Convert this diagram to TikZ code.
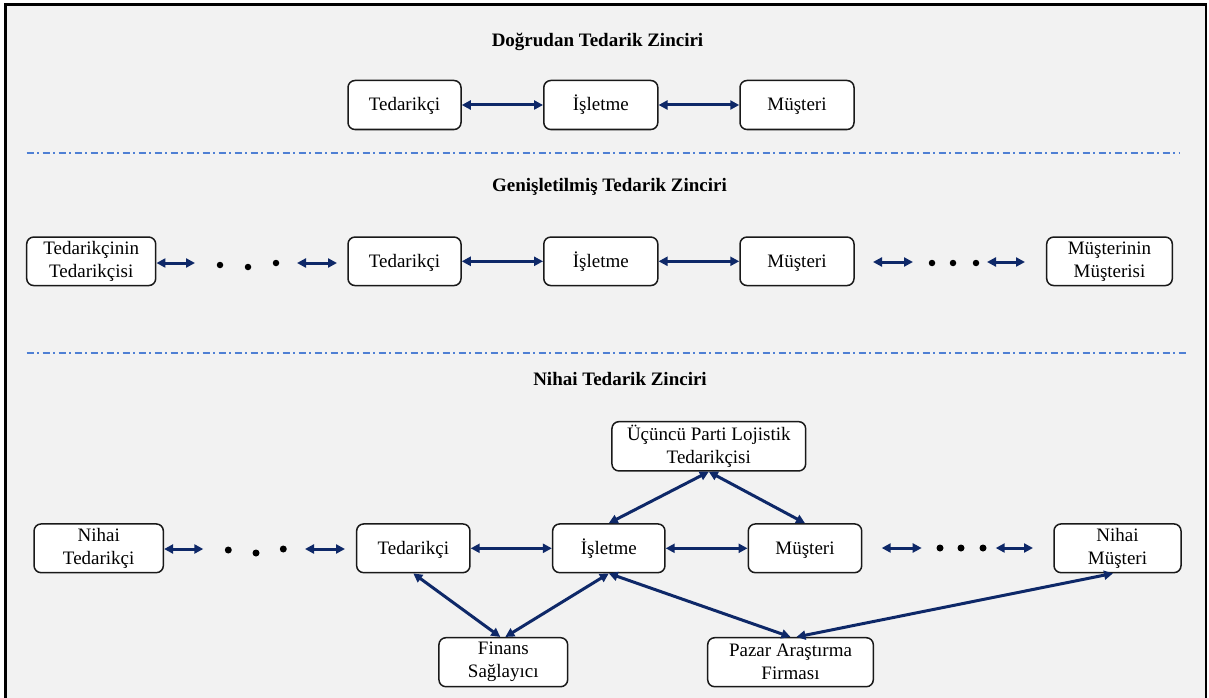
\documentclass[tikz,border=0pt]{standalone}
\usepackage{fontspec}
\setmainfont{Liberation Serif}
\usetikzlibrary{arrows.meta}
\definecolor{navy}{RGB}{14,40,104}
\definecolor{panel}{HTML}{F2F2F2}
\definecolor{sepblue}{HTML}{4F80D4}
\tikzset{
  box/.style={draw=black!90, line width=1.5pt, fill=white, rounded corners=7pt,
    minimum height=49pt, align=center, inner sep=0pt,
    font=\fontsize{19}{23}\selectfont,
    execute at begin node={\rule{0pt}{16pt}}},
  link/.style={navy, line width=3pt, {Triangle[length=9pt,width=9pt]}-{Triangle[length=9pt,width=9pt]}},
  heading/.style={anchor=base, font=\fontsize{19}{23}\selectfont\bfseries},
  separator/.style={sepblue, line width=1.7pt, dash pattern=on 7pt off 3.5pt on 2pt off 3.5pt},
  dot/.style={circle, fill=black, inner sep=0pt, minimum size=7pt}
}
\begin{document}
\begin{tikzpicture}[x=1pt, y=-1pt]
  \useasboundingbox (0,0) rectangle (1209,698);
  \clip (0,0) rectangle (1209,698);
  % frame and panel background
  \fill[white] (0,0) rectangle (1209,698);
  \draw[line width=2.5pt, fill=panel] (5.5,4.5) rectangle (1206,720);

  % ---------- Doğrudan Tedarik Zinciri ----------
  \node[heading] (h1) at (597.5,46.7) {Doğrudan Tedarik Zinciri};
  \node[box, minimum width=113pt] (a1) at (404.5,105) {Tedarikçi};
  \node[box, minimum width=114pt] (a2) at (600.8,105) {İşletme};
  \node[box, minimum width=114pt] (a3) at (797,105) {Müşteri};
  \draw[link] (a1) -- (a2);
  \draw[link] (a2) -- (a3);

  \coordinate (l1a) at (26.7,152.7);
  \coordinate (l1b) at (1180,152.7);
  \draw[separator] (l1a) -- (l1b);

  % ---------- Genişletilmiş Tedarik Zinciri ----------
  \node[heading] (h2) at (609.5,191.7) {Genişletilmiş Tedarik Zinciri};
  \node[box, minimum width=129pt, minimum height=48.5pt] (b0) at (91.2,261.3) {Tedarikçinin\\Tedarikçisi};
  \node[box, minimum width=113pt, minimum height=48.5pt] (b1) at (404.5,261.3) {Tedarikçi};
  \node[box, minimum width=114pt, minimum height=48.5pt] (b2) at (600.8,261.3) {İşletme};
  \node[box, minimum width=114pt, minimum height=48.5pt] (b3) at (797,261.3) {Müşteri};
  \node[box, minimum width=125.6pt, minimum height=48.5pt] (b4) at (1109.5,261.3) {Müşterinin\\Müşterisi};

  \coordinate (b0r) at (195,263);
  \coordinate (b1la) at (297,263);
  \coordinate (b1lb) at (337,263);
  \coordinate (b3ra) at (873,262);
  \coordinate (b3rb) at (913,262);
  \coordinate (b4la) at (987,262);
  \coordinate (b4lb) at (1025,262);
  \draw[link] (b0.east |- b0r) -- (b0r);
  \draw[link] (b1la) -- (b1lb);
  \draw[link] (b1) -- (b2);
  \draw[link] (b2) -- (b3);
  \draw[link] (b3ra) -- (b3rb);
  \draw[link] (b4la) -- (b4lb);
  \node[dot, minimum size=6.5pt] (d1) at (220,265) {};
  \node[dot, minimum size=6.5pt] (d2) at (248,267) {};
  \node[dot, minimum size=6.5pt] (d3) at (276,263) {};
  \node[dot, minimum size=6.5pt] (d4) at (932,263) {};
  \node[dot, minimum size=6.5pt] (d5) at (953,263) {};
  \node[dot, minimum size=6.5pt] (d6) at (976,263) {};

  \coordinate (l2a) at (26.7,352.7);
  \coordinate (l2b) at (1186,352.7);
  \draw[separator] (l2a) -- (l2b);

  % ---------- Nihai Tedarik Zinciri ----------
  \node[heading] (h3) at (620,385) {Nihai Tedarik Zinciri};
  \node[box, minimum width=193.7pt, minimum height=49.3pt] (upl) at (708.8,446.3) {Üçüncü Parti Lojistik\\Tedarikçisi};
  \node[box, minimum width=129.3pt, minimum height=48.7pt] (c0) at (98.7,548.3) {Nihai\\Tedarikçi};
  \node[box, minimum width=113.3pt, minimum height=48.7pt] (c1) at (413.3,548.3) {Tedarikçi};
  \node[box, minimum width=112.3pt, minimum height=48.7pt] (c2) at (608.8,548.3) {İşletme};
  \node[box, minimum width=113.4pt, minimum height=48.7pt] (c3) at (805,548.3) {Müşteri};
  \node[box, minimum width=127pt, minimum height=48.7pt] (c4) at (1117.5,548.3) {Nihai\\Müşteri};
  \node[box, minimum width=128.7pt] (fin) at (503.3,662.2) {Finans\\Sağlayıcı};
  \node[box, minimum width=165.6pt] (paz) at (790.5,662.2) {Pazar Araştırma\\Firması};

  \coordinate (c0r) at (203.3,549);
  \coordinate (c1la) at (305,549);
  \coordinate (c1lb) at (345,549);
  \coordinate (c3ra) at (881.7,548);
  \coordinate (c3rb) at (921.7,548);
  \coordinate (c4la) at (995.7,548);
  \coordinate (c4lb) at (1033,548);
  \draw[link] (c0.east |- c0r) -- (c0r);
  \draw[link] (c1la) -- (c1lb);
  \draw[link] (c1) -- (c2);
  \draw[link] (c2) -- (c3);
  \draw[link] (c3ra) -- (c3rb);
  \draw[link] (c4la) -- (c4lb);
  \node[dot] (e1) at (228.3,550) {};
  \node[dot] (e2) at (256,553) {};
  \node[dot] (e3) at (283.3,549) {};
  \node[dot] (e4) at (940,548) {};
  \node[dot] (e5) at (961,548) {};
  \node[dot] (e6) at (983,548) {};

  % links to the service providers
  \draw[link] (upl.south) -- (c2.north);
  \draw[link] (upl.south) -- (c3.north);
  \draw[link] (c1.south) -- ([xshift=-3pt]fin.north);
  \draw[link] (c2.south) -- ([xshift=2pt]fin.north);
  \draw[link] (c2.south) -- (paz.north);
  \draw[link] ([xshift=-4.5pt]c4.south) -- ([xshift=6pt]paz.north);
\end{tikzpicture}
\end{document}
